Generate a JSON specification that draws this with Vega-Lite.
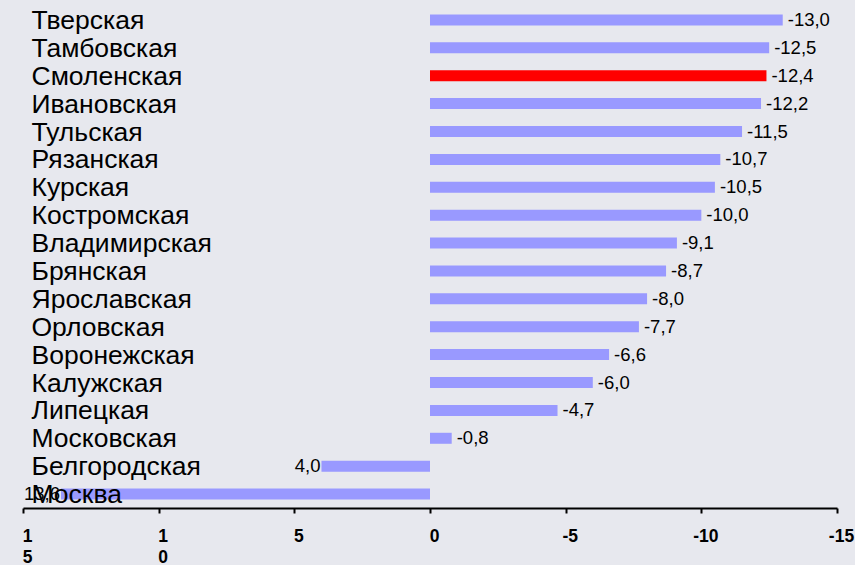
{
  "$schema": "https://vega.github.io/schema/vega-lite/v6.json",
  "autosize": {"type": "none"},
  "padding": {"left": 23, "top": 6, "right": 18, "bottom": 57},
  "width": 814,
  "height": 502,
  "background": "#e7e8ee",
  "config": {"view": {"stroke": null}, "font": "Liberation Sans"},
  "data": {
    "values": [
      {"region": "Тверская", "value": -13.0, "label": "-13,0"},
      {"region": "Тамбовская", "value": -12.5, "label": "-12,5"},
      {"region": "Смоленская", "value": -12.4, "label": "-12,4"},
      {"region": "Ивановская", "value": -12.2, "label": "-12,2"},
      {"region": "Тульская", "value": -11.5, "label": "-11,5"},
      {"region": "Рязанская", "value": -10.7, "label": "-10,7"},
      {"region": "Курская", "value": -10.5, "label": "-10,5"},
      {"region": "Костромская", "value": -10.0, "label": "-10,0"},
      {"region": "Владимирская", "value": -9.1, "label": "-9,1"},
      {"region": "Брянская", "value": -8.7, "label": "-8,7"},
      {"region": "Ярославская", "value": -8.0, "label": "-8,0"},
      {"region": "Орловская", "value": -7.7, "label": "-7,7"},
      {"region": "Воронежская", "value": -6.6, "label": "-6,6"},
      {"region": "Калужская", "value": -6.0, "label": "-6,0"},
      {"region": "Липецкая", "value": -4.7, "label": "-4,7"},
      {"region": "Московская", "value": -0.8, "label": "-0,8"},
      {"region": "Белгородская", "value": 4.0, "label": "4,0"},
      {"region": "Москва", "value": 13.6, "label": "13,6"}
    ]
  },
  "encoding": {
    "y": {
      "field": "region",
      "type": "nominal",
      "sort": null,
      "scale": {"paddingInner": 0, "paddingOuter": 0},
      "axis": {
        "orient": "left",
        "title": null,
        "domain": false,
        "ticks": true,
        "tickSize": 0,
        "tickOpacity": 0,
        "labelAlign": "left",
        "labelBaseline": "middle",
        "labelPadding": -8,
        "labelOffset": 1,
        "labelFontSize": 26.5,
        "labelColor": "black",
        "labelLimit": 400,
        "zindex": 1
      }
    }
  },
  "layer": [
    {
      "mark": {"type": "bar", "size": 11},
      "encoding": {
        "x": {
          "field": "value",
          "type": "quantitative",
          "scale": {"domain": [-15, 15], "reverse": true, "nice": false},
          "axis": {
            "title": null,
            "grid": false,
            "values": [15, 10, 5, 0, -5, -10, -15],
            "labelExpr": "datum.value === 15 ? ['1','5'] : datum.value === 10 ? ['1','0'] : (datum.value < 0 ? '-' + (-datum.value) : '' + datum.value)",
            "labelFontWeight": "bold",
            "labelFontSize": 17.5,
            "labelColor": "black",
            "labelLineHeight": 21,
            "labelBaseline": "top",
            "labelPadding": 14,
            "labelOffset": 4,
            "labelFlush": false,
            "labelOverlap": false,
            "domainColor": "black",
            "domainWidth": 2,
            "tickColor": "black",
            "tickWidth": 2,
            "tickSize": 5
          }
        },
        "color": {
          "condition": {"test": "datum.region === 'Смоленская'", "value": "#ff0000"},
          "value": "#9999ff"
        }
      }
    },
    {
      "transform": [{"filter": "datum.value < 0"}],
      "mark": {"type": "text", "align": "left", "baseline": "middle", "dx": 5, "fontSize": 18.5, "color": "black"},
      "encoding": {
        "x": {"field": "value", "type": "quantitative"},
        "text": {"field": "label"}
      }
    },
    {
      "transform": [{"filter": "datum.value > 0"}],
      "mark": {"type": "text", "align": "right", "baseline": "middle", "dx": -1, "fontSize": 18.5, "color": "black"},
      "encoding": {
        "x": {"field": "value", "type": "quantitative"},
        "text": {"field": "label"}
      }
    }
  ]
}
